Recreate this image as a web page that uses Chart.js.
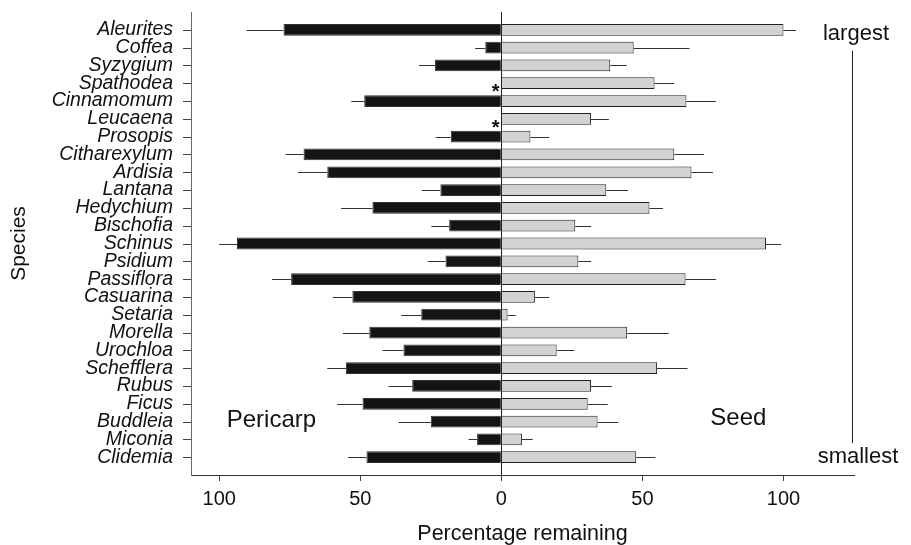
<!DOCTYPE html>
<html>
<head>
<meta charset="utf-8">
<script src="https://cdn.jsdelivr.net/npm/chart.js@4.4.1/dist/chart.umd.min.js"></script>
<style>
  html, body { margin: 0; padding: 0; background: #fff; }
  #wrap { width: 911px; height: 545px; }
</style>
</head>
<body>
<div id="wrap"><canvas id="chart"></canvas></div>
<script>
// species, top (largest seed) to bottom (smallest seed)
const species = ['Aleurites', 'Coffea', 'Syzygium', 'Spathodea', 'Cinnamomum', 'Leucaena', 'Prosopis',
  'Citharexylum', 'Ardisia', 'Lantana', 'Hedychium', 'Bischofia', 'Schinus', 'Psidium', 'Passiflora',
  'Casuarina', 'Setaria', 'Morella', 'Urochloa', 'Schefflera', 'Rubus', 'Ficus', 'Buddleia', 'Miconia', 'Clidemia'];

// percentage remaining, pericarp (null = no data, marked *)
const pericarp    = [77.2, 5.7, 23.5, null, 48.6, null, 17.9, 70.1, 61.7, 21.6, 45.7, 18.5, 93.7,
  19.8, 74.5, 52.8, 28.4, 46.8, 34.7, 55.1, 31.6, 49.2, 25.0, 8.6, 47.8];
const pericarpErr = [90.3, 9.3, 29.2, null, 53.2, null, 23.3, 76.5, 72.1, 28.2, 56.8, 24.8, 100,
  26.1, 81.3, 59.7, 35.5, 56.2, 42.1, 61.7, 40.0, 58.2, 36.4, 11.6, 54.3];

// percentage remaining, seed
const seed    = [100, 46.9, 38.6, 54.3, 65.6, 31.8, 10.3, 61.3, 67.4, 37.2, 52.5, 26.2, 93.8,
  27.3, 65.3, 11.9, 2.2, 44.6, 19.6, 55.2, 31.8, 30.6, 34.1, 7.3, 47.8];
const seedErr = [104.5, 66.7, 44.4, 61.3, 76.1, 38.1, 17.0, 71.8, 75.0, 44.9, 57.3, 31.8, 99.2,
  31.8, 76.1, 17.0, 5.1, 59.3, 25.9, 66.0, 39.2, 37.7, 41.5, 11.1, 54.6];

const xTicks = [-100, -50, 0, 50, 100];

const FONT = '"Liberation Sans", Arial, Helvetica, sans-serif';
Chart.defaults.font.family = FONT;
Chart.defaults.color = '#111';

function line(ctx, x1, y1, x2, y2) {
  ctx.beginPath();
  ctx.moveTo(x1, y1);
  ctx.lineTo(x2, y2);
  ctx.stroke();
}

const extras = {
  id: 'extras',
  afterDatasetsDraw(chart) {
    const { ctx, chartArea: a, scales: { x, y } } = chart;
    ctx.save();
    ctx.lineWidth = 1;
    ctx.strokeStyle = '#222';
    const x0 = Math.round(x.getPixelForValue(0)) + 0.5;
    line(ctx, x0, a.top, x0, a.bottom);

    // error bars (one-sided)
    ctx.strokeStyle = '#333';
    species.forEach((s, i) => {
      const py = Math.round(y.getPixelForValue(i)) + 0.5;
      if (pericarp[i] != null) {
        line(ctx, x.getPixelForValue(-pericarp[i]), py, x.getPixelForValue(-pericarpErr[i]), py);
      } else {
        ctx.fillStyle = '#111';
        ctx.font = 'bold 20px ' + FONT;
        ctx.textAlign = 'center';
        ctx.textBaseline = 'alphabetic';
        ctx.fillText('*', x.getPixelForValue(-2), py + 14);
      }
      line(ctx, x.getPixelForValue(seed[i]), py, x.getPixelForValue(seedErr[i]), py);
    });

    // y-axis tick marks
    ctx.strokeStyle = '#444';
    species.forEach((s, i) => {
      const py = Math.round(y.getPixelForValue(i)) + 0.5;
      line(ctx, a.left - 8, py, a.left, py);
    });

    // labels
    ctx.fillStyle = '#111';
    ctx.textAlign = 'center';
    ctx.textBaseline = 'middle';
    ctx.font = '24px ' + FONT;
    ctx.fillText('Pericarp', x.getPixelForValue(-81.5), y.getPixelForValue(22) - 1);
    ctx.fillText('Seed', x.getPixelForValue(84), y.getPixelForValue(22) - 3);
    ctx.font = '22px ' + FONT;
    ctx.fillText('largest', a.right + 2, y.getPixelForValue(0) + 4);
    ctx.fillText('smallest', a.right + 4, y.getPixelForValue(24));
    ctx.strokeStyle = '#222';
    const xl = Math.round(a.right - 2) + 0.5;
    line(ctx, xl, y.getPixelForValue(0) + 21, xl, y.getPixelForValue(24) - 14);
    ctx.restore();
  }
};

new Chart(document.getElementById('chart'), {
  type: 'bar',
  data: {
    datasets: [
      {
        label: 'Pericarp',
        data: species.map((s, i) => ({ x: pericarp[i] == null ? null : -pericarp[i], y: i })),
        backgroundColor: '#141414',
        borderColor: '#333',
        borderWidth: 1,
        grouped: false,
        categoryPercentage: 1,
        barPercentage: 0.66
      },
      {
        label: 'Seed',
        data: species.map((s, i) => ({ x: seed[i], y: i })),
        backgroundColor: '#d2d2d2',
        borderColor: '#222',
        borderWidth: 1,
        grouped: false,
        categoryPercentage: 1,
        barPercentage: 0.66
      }
    ]
  },
  options: {
    indexAxis: 'y',
    responsive: true,
    maintainAspectRatio: false,
    animation: false,
    layout: { padding: { left: 0, right: 57, top: 12, bottom: 0 } },
    plugins: { legend: { display: false }, tooltip: { enabled: false } },
    scales: {
      x: {
        type: 'linear',
        min: -110,
        max: 125,
        afterBuildTicks: s => { s.ticks = xTicks.map(v => ({ value: v })); },
        afterFit: s => { s.height = 70; },
        ticks: { callback: v => Math.abs(v), font: { size: 20 }, color: '#111', padding: 6, maxRotation: 0 },
        grid: { drawOnChartArea: false, tickLength: 6, color: '#444' },
        border: { color: '#333' },
        title: { display: true, text: 'Percentage remaining', font: { size: 21.5, lineHeight: 1 }, color: '#111', padding: { top: 0, bottom: 0 } }
      },
      y: {
        type: 'linear',
        reverse: true,
        offset: false,
        min: -1,
        max: 25,
        afterBuildTicks: s => { s.ticks = species.map((n, i) => ({ value: i })); },
        afterFit: s => { s.width = 191; s.paddingTop = 0; s.paddingBottom = 0; },
        ticks: {
          autoSkip: false,
          callback: v => species[v],
          font: { size: 19.5, style: 'italic', lineHeight: 1 },
          color: '#111',
          padding: 18
        },
        grid: { drawOnChartArea: false, drawTicks: false, offset: false, tickLength: 8, color: '#555' },
        border: { color: '#666' },
        title: { display: true, text: 'Species', font: { size: 21, lineHeight: 1.2 }, color: '#111', padding: { top: 7, bottom: 0 } }
      }
    }
  },
  plugins: [extras]
});
</script>
</body>
</html>
